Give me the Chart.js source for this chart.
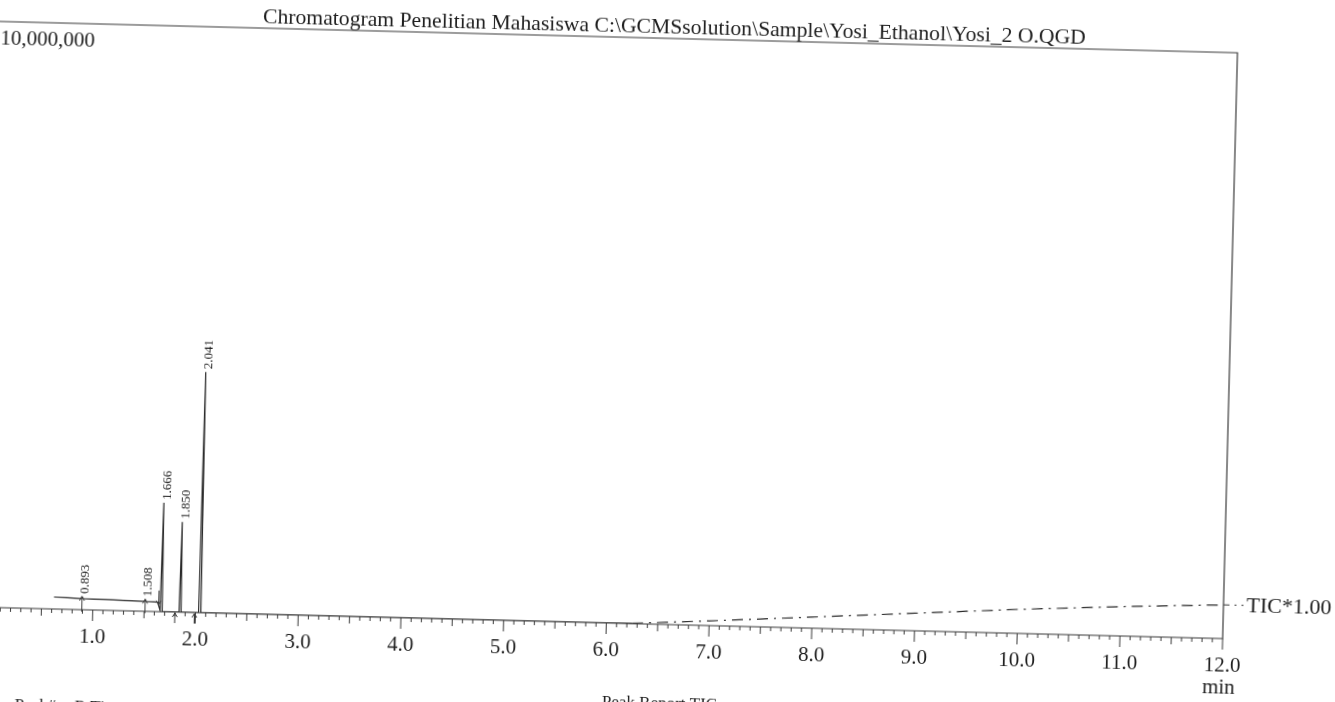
<!DOCTYPE html>
<html>
<head>
<meta charset="utf-8">
<title>Chromatogram Penelitian Mahasiswa</title>
<script src="https://cdn.jsdelivr.net/npm/chart.js@4.4.0/dist/chart.umd.min.js"></script>
<style>
  html, body { margin: 0; padding: 0; background: #fff; overflow: hidden; width: 1335px; height: 702px; }
  /* the printed sheet was scanned a little tilted: turn it round the 1.0 min tick */
  #sheet {
    position: absolute; left: -60px; top: 0;
    width: 1420px; height: 760px;
    transform-origin: 153px 610px;
    transform: rotate(1.45deg);
  }
</style>
</head>
<body>
<div id="sheet"><canvas id="chrom" width="1420" height="760"></canvas></div>
<script>
// ---------------- data ----------------
const titleText = 'Chromatogram Penelitian Mahasiswa C:\\GCMSsolution\\Sample\\Yosi_Ethanol\\Yosi_2 O.QGD';
const traceName = 'TIC*1.00';
const unitLabel = 'min';
const yMax = 10000000;

// retention time (min) and TIC intensity
const rtMin = [0.62, 0.75, 0.88, 0.893, 0.905, 1.0, 1.2, 1.4, 1.498, 1.508, 1.518, 1.6, 1.63, 1.655,
  1.666, 1.676, 1.70, 1.84, 1.850, 1.860, 2.03, 2.041, 2.052, 2.5, 3.0, 4.0, 5.0, 6.0, 6.25,
  6.5, 7.0, 7.5, 8.0, 8.5, 9.0, 9.5, 10.0, 10.5, 11.0, 11.5, 12.0];
const ticCounts = [205000, 198000, 190000, 222000, 188000, 186000, 180000, 173000, 168000, 200000, 166000, 163000, 160000, 20000,
  1860000, 0, 0, 0, 1540000, 0, 0, 4110000, 0, 0, 0, 0, 0, 0, 8000,
  30000, 80000, 135000, 190000, 245000, 300000, 355000, 410000, 455000, 500000, 540000, 575000];

const peakRT = [0.893, 1.508, 1.666, 1.850, 2.041];
const peakLabels = ['0.893', '1.508', '1.666', '1.850', '2.041'];

// integration marks under / over the trace
const markRT = [0.893, 1.508, 1.64, 1.80, 1.99];
const markDir = ['up', 'up', 'down', 'up', 'up'];

const xTickValues = [1, 2, 3, 4, 5, 6, 7, 8, 9, 10, 11, 12];
const xTickLabels = ['1.0', '2.0', '3.0', '4.0', '5.0', '6.0', '7.0', '8.0', '9.0', '10.0', '11.0', '12.0'];

const footerTexts = ['Peak#', 'R.Time', 'Peak Report TIC'];

// ---------------- drawing ----------------
const SERIF = '"Liberation Serif", "Times New Roman", serif';
const INK = '#1e1e1e';
const LINE = '#3a3a3a';
const dashFrom = 6.25;

function ticAt(t) {
  for (let i = 1; i < rtMin.length; i++) {
    if (t <= rtMin[i]) {
      const f = (t - rtMin[i - 1]) / (rtMin[i] - rtMin[i - 1]);
      return ticCounts[i - 1] + f * (ticCounts[i] - ticCounts[i - 1]);
    }
  }
  return ticCounts[ticCounts.length - 1];
}

function arrow(ctx, x, yTail, yTip) {
  const d = yTip < yTail ? 1 : -1;
  ctx.beginPath();
  ctx.moveTo(x, yTail); ctx.lineTo(x, yTip);
  ctx.moveTo(x - 2.5, yTip + d * 4); ctx.lineTo(x, yTip); ctx.lineTo(x + 2.5, yTip + d * 4);
  ctx.stroke();
}

// frame (top, right, axis) and tick marks
const framePlugin = {
  id: 'frame',
  beforeDatasetsDraw(chart) {
    const { ctx, chartArea: a, scales: { x } } = chart;
    ctx.save();
    ctx.strokeStyle = LINE;
    ctx.lineWidth = 1.2;
    ctx.beginPath();
    ctx.moveTo(0, a.top);
    ctx.lineTo(a.right, a.top);
    ctx.lineTo(a.right, a.bottom);
    ctx.lineTo(0, a.bottom);
    ctx.stroke();
    ctx.lineWidth = 1;
    for (let i = 0; i <= 120; i++) {
      const px = x.getPixelForValue(i / 10);
      const len = i % 10 === 0 ? 11 : (i % 5 === 0 ? 7 : 4);
      ctx.beginPath();
      ctx.moveTo(px, a.bottom);
      ctx.lineTo(px, a.bottom + len);
      ctx.stroke();
    }
    ctx.restore();
  },
  afterDatasetsDraw(chart) {
    const { ctx, chartArea: a, scales: { x, y } } = chart;
    ctx.save();
    ctx.fillStyle = INK;

    // title sitting on the top rule
    ctx.font = '22px ' + SERIF;
    ctx.textBaseline = 'alphabetic';
    ctx.textAlign = 'left';
    const tw = ctx.measureText(titleText).width;
    ctx.save();
    ctx.translate(308, 19);
    ctx.scale(823 / tw, 1);
    ctx.fillText(titleText, 0, 0);
    ctx.restore();

    // full-scale value
    ctx.font = '21px ' + SERIF;
    ctx.fillText(yMax.toLocaleString('en-US'), a.left - 4, 47);

    // unit under the last tick
    ctx.textAlign = 'center';
    ctx.textBaseline = 'middle';
    ctx.fillText(unitLabel, a.right - 3, 659);

    // trace name with dash-dot leader
    const lastY = y.getPixelForValue(ticCounts[ticCounts.length - 1]);
    ctx.strokeStyle = LINE;
    ctx.lineWidth = 1.1;
    ctx.setLineDash([6, 5, 2, 5]);
    ctx.beginPath();
    ctx.moveTo(a.right, lastY);
    ctx.lineTo(a.right + 20, lastY);
    ctx.stroke();
    ctx.setLineDash([]);
    ctx.font = '22px ' + SERIF;
    ctx.textAlign = 'left';
    ctx.fillText(traceName, a.right + 23, lastY + 1);

    // retention time labels, written upward above each peak
    ctx.font = '13px ' + SERIF;
    ctx.textBaseline = 'middle';
    peakRT.forEach((rt, i) => {
      const px = x.getPixelForValue(rt);
      const py = y.getPixelForValue(ticAt(rt));
      ctx.save();
      ctx.translate(px + 3, py - 3);
      ctx.rotate(-Math.PI / 2);
      ctx.fillText(peakLabels[i], 0, 0);
      ctx.restore();
    });

    // integration arrows
    ctx.lineWidth = 1;
    markRT.forEach((rt, i) => {
      const px = x.getPixelForValue(rt);
      const tip = y.getPixelForValue(ticAt(rt));
      if (markDir[i] === 'up') {
        arrow(ctx, px, Math.max(tip + 11, a.bottom + 2), tip + (tip >= a.bottom - 1 ? 1 : 0));
      } else {
        arrow(ctx, px, tip - 15, tip - 1);
      }
    });

    // start of the peak report table, cut by the page edge
    ctx.font = '17px ' + SERIF;
    ctx.textBaseline = 'top';
    ctx.textAlign = 'left';
    ctx.fillText(footerTexts[0], 77, 699);
    ctx.fillText(footerTexts[1], 137, 699);
    ctx.fillText(footerTexts[2], 664, 681);
    ctx.restore();
  }
};

new Chart(document.getElementById('chrom'), {
  type: 'line',
  data: {
    datasets: [{
      label: traceName,
      data: rtMin.map((t, i) => ({ x: t, y: ticCounts[i] })),
      borderColor: '#2b2b2b',
      borderWidth: 1.2,
      pointRadius: 0,
      tension: 0,
      fill: false,
      segment: {
        borderDash: c => (c.p0.parsed.x >= dashFrom ? [11, 6, 2, 6] : undefined)
      }
    }]
  },
  options: {
    responsive: false,
    animation: false,
    layout: { padding: { top: 24, left: 50, right: 137, bottom: 0 } },
    plugins: { legend: { display: false }, tooltip: { enabled: false }, title: { display: false } },
    scales: {
      x: {
        type: 'linear',
        min: 0,
        max: 12,
        afterFit: s => { s.height = 150; },
        grid: { display: false, drawTicks: false },
        border: { display: false },
        ticks: {
          stepSize: 1,
          autoSkip: false,
          maxRotation: 0,
          padding: 15,
          color: INK,
          font: { family: SERIF, size: 21 },
          callback: v => {
            const k = xTickValues.indexOf(v);
            return k < 0 ? '' : xTickLabels[k];
          }
        }
      },
      y: { type: 'linear', min: 0, max: yMax, display: false }
    }
  },
  plugins: [framePlugin]
});
</script>
</body>
</html>
